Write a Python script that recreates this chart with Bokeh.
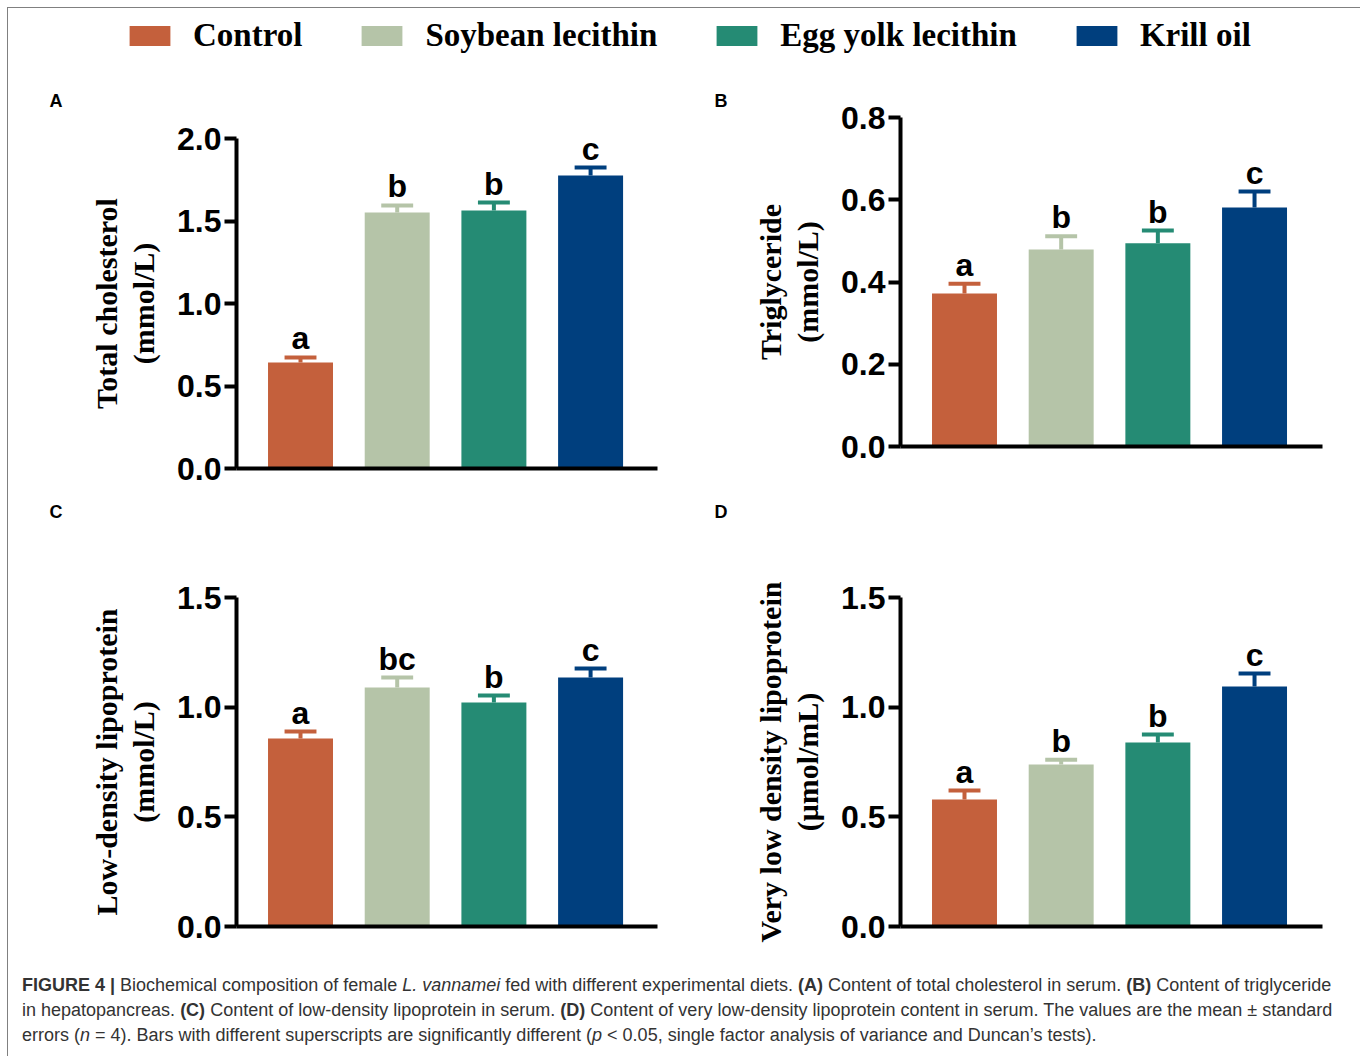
from bokeh.plotting import figure
from bokeh.models import (Range1d, FixedTicker, NumeralTickFormatter, Legend, LegendItem,
                          Div, ColumnDataSource, LinearAxis, CustomJSTickFormatter)
from bokeh.layouts import column, row
from bokeh.core.properties import value
from bokeh.embed import file_html
from bokeh.resources import INLINE

# ---------------- data ----------------
groups = ["Control", "Soybean lecithin", "Egg yolk lecithin", "Krill oil"]
colors = ["#C4603C", "#B5C4A8", "#258B74", "#003F7E"]

tc_mean = [0.642, 1.552, 1.564, 1.776]
tc_se = [0.031, 0.042, 0.048, 0.048]
tc_letters = ["a", "b", "b", "c"]

tg_mean = [0.372, 0.479, 0.494, 0.581]
tg_se = [0.024, 0.032, 0.031, 0.039]
tg_letters = ["a", "b", "b", "c"]

ldl_mean = [0.857, 1.090, 1.021, 1.135]
ldl_se = [0.032, 0.045, 0.032, 0.041]
ldl_letters = ["a", "bc", "b", "c"]

vldl_mean = [0.579, 0.739, 0.839, 1.094]
vldl_se = [0.041, 0.021, 0.036, 0.059]
vldl_letters = ["a", "b", "b", "c"]

tc_ticks = [0.0, 0.5, 1.0, 1.5, 2.0]
tg_ticks = [0.0, 0.2, 0.4, 0.6, 0.8]
ldl_ticks = [0.0, 0.5, 1.0, 1.5]
vldl_ticks = [0.0, 0.5, 1.0, 1.5]

SANS = "Liberation Sans"
SERIF = "Liberation Serif"
BAR_W = 0.672
CAP_HALF = 0.165


def panel(letter, ylabel, means, ses, letters, ticks, w, h, bl, br, bt, bb, xr, lx, ly):
    p = figure(width=w, height=h, output_backend="svg", toolbar_location=None,
               x_range=Range1d(*xr), y_range=Range1d(ticks[0], ticks[-1]),
               min_border_left=bl, min_border_right=br, min_border_top=bt, min_border_bottom=bb,
               frame_align=False)
    p.outline_line_color = None
    p.grid.visible = False
    p.background_fill_color = "white"
    p.border_fill_color = "white"

    xs = list(range(len(groups)))
    tops = [m + s for m, s in zip(means, ses)]
    src = ColumnDataSource(dict(x=xs, mean=means, top=tops, color=colors, lab=letters,
                                x0=[x - CAP_HALF for x in xs], x1=[x + CAP_HALF for x in xs]))
    p.vbar(x="x", top="mean", width=BAR_W, fill_color="color", line_color=None, source=src)
    p.segment(x0="x", y0="mean", x1="x", y1="top", line_color="color", line_width=4, source=src)
    p.segment(x0="x0", y0="top", x1="x1", y1="top", line_color="color", line_width=4, source=src)
    p.text(x="x", y="top", text="lab", text_align="center", text_baseline="alphabetic",
           y_offset=-19, text_font=value(SANS), text_font_style="bold", text_font_size="32px",
           text_color="black", source=src)

    ya = p.yaxis[0]
    ya.ticker = FixedTicker(ticks=ticks)
    ya.formatter = NumeralTickFormatter(format="0.0")
    ya.axis_line_width = 4
    ya.axis_line_color = "black"
    ya.major_tick_line_width = 4
    ya.major_tick_out = 12
    ya.major_tick_in = 0
    ya.minor_tick_line_color = None
    ya.major_label_text_font = SANS
    ya.major_label_text_font_style = "bold"
    ya.major_label_text_font_size = "32px"
    ya.major_label_text_color = "black"
    ya.major_label_standoff = 3
    ya.axis_label = ylabel
    ya.axis_label_text_font = SERIF
    ya.axis_label_text_font_style = "bold"
    ya.axis_label_text_font_size = "30px"
    ya.axis_label_text_color = "black"
    ya.axis_label_standoff = 14
    ya.axis_label_text_line_height = 1.12

    xa = p.xaxis[0]
    xa.ticker = FixedTicker(ticks=[])
    xa.axis_line_width = 4
    xa.axis_line_color = "black"
    xa.major_tick_line_color = None
    xa.minor_tick_line_color = None
    xa.major_label_text_font_size = "0px"

    # invisible spacer axis above the frame, so the panel letter sits at the right height
    standoff = 10
    gap = max(bt - ly - 9 - standoff // 2, 0)
    spacer = LinearAxis(ticker=FixedTicker(ticks=[0]), axis_line_color=None,
                        formatter=CustomJSTickFormatter(code="return ''"),
                        major_tick_line_color=None, minor_tick_line_color=None,
                        major_tick_out=gap, major_tick_in=0, minor_tick_out=0,
                        major_label_standoff=0, major_label_text_font_size="1px",
                        major_label_text_color=None)
    p.add_layout(spacer, "above")

    p.title.text = letter
    p.title.align = "left"
    p.title.offset = lx - 7 - bl
    p.title.standoff = standoff
    p.title.text_font = SANS
    p.title.text_font_style = "bold"
    p.title.text_font_size = "18px"
    p.title.text_color = "black"
    return p


XR_L = (-0.662, 3.692)
XR_R = (-0.662, 3.703)

pA = panel("A", "Total cholesterol\n(mmol/L)", tc_mean, tc_se, tc_letters, tc_ticks,
           672, 410, 228, 23, 58, 22, XR_L, 48, 21)
pB = panel("B", "Triglyceride\n(mmol/L)", tg_mean, tg_se, tg_letters, tg_ticks,
           676, 410, 220, 34, 37, 44, XR_R, 41, 21)
pC = panel("C", "Low-density lipoprotein\n(mmol/L)", ldl_mean, ldl_se, ldl_letters, ldl_ticks,
           672, 465, 228, 23, 107, 29, XR_L, 48, 22)
pD = panel("D", "Very low density lipoprotein\n(μmol/mL)", vldl_mean, vldl_se, vldl_letters, vldl_ticks,
           676, 465, 220, 34, 107, 29, XR_R, 41, 22)

# ---------------- legend strip ----------------
pL = figure(width=1348, height=72, output_backend="svg", toolbar_location=None,
            x_range=Range1d(0, 1), y_range=Range1d(0, 1), x_axis_type=None, y_axis_type=None,
            min_border=0, frame_align=False)
pL.outline_line_color = None
pL.grid.visible = False
lsrc = ColumnDataSource(dict(x=list(range(len(groups))), top=[0] * len(groups), color=colors))
lr = pL.vbar(x="x", top="top", width=0.1, fill_color="color", line_color=None, source=lsrc)
items = [LegendItem(label=g, renderers=[lr], index=i) for i, g in enumerate(groups)]
leg = Legend(items=items, orientation="horizontal", location=(116, 26),
             glyph_width=51, glyph_height=25, label_standoff=18, spacing=54,
             padding=0, margin=0, border_line_color=None, background_fill_alpha=0,
             label_text_font=SERIF, label_text_font_style="bold", label_text_font_size="33px",
             label_text_color="black")
pL.add_layout(leg)

# ---------------- caption ----------------
caption_html = (
    "<b>FIGURE 4 |</b> Biochemical composition of female <i>L. vannamei</i> fed with different "
    "experimental diets. <b>(A)</b> Content of total cholesterol in serum. <b>(B)</b> Content of "
    "triglyceride<br>in hepatopancreas. <b>(C)</b> Content of low-density lipoprotein in serum. "
    "<b>(D)</b> Content of very low-density lipoprotein content in serum. The values are the mean "
    "&plusmn; standard<br>errors (<i>n</i> = 4). Bars with different superscripts are significantly "
    "different (<i>p</i> &lt; 0.05, single factor analysis of variance and Duncan&rsquo;s tests)."
)
cap = Div(text=caption_html, width=1348, height=101,
          styles={"font-family": "Liberation Sans", "font-size": "18px", "line-height": "25px",
                  "color": "#333333", "white-space": "nowrap", "padding-top": "13px",
                  "padding-left": "9px", "box-sizing": "border-box"})

layout = column(pL, row(pA, pB), row(pC, pD), cap, margin=(8, 0, 0, 8),
                styles={"outline": "1px solid #808080"})

open("out.html", "w").write(file_html(layout, INLINE))
